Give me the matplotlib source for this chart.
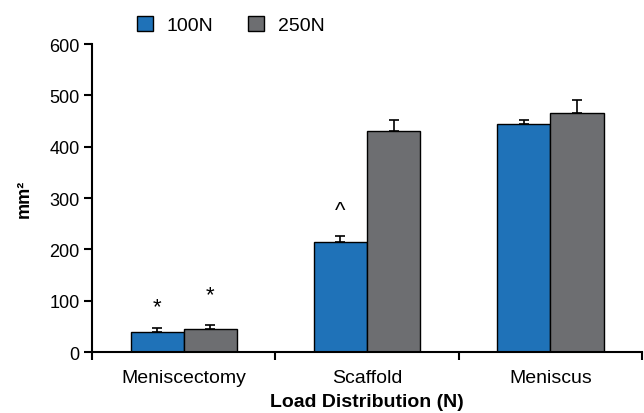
import matplotlib.pyplot as plt
import numpy as np

plt.rcParams['font.family'] = ['Liberation Sans', 'DejaVu Sans']

categories = ["Meniscectomy", "Scaffold", "Meniscus"]
series = ["100N", "250N"]
vals_100 = [40, 214, 444]
err_100 = [7, 13, 8]
vals_250 = [46, 430, 466]
err_250 = [7, 22, 26]
marks_100 = ["*", "^", ""]
marks_100_y = [88, 276, 0]
marks_250 = ["*", "", ""]
marks_250_y = [112, 0, 0]

blue = "#1f72b8"
grey = "#6d6e71"

fig = plt.figure(figsize=(6.44, 4.14), dpi=100)
ax = fig.add_axes([0.143, 0.147, 0.854, 0.744])

x = np.arange(len(categories))
w = 0.29
ekw = dict(elinewidth=1.2, capthick=1.2)
b1 = ax.bar(x - w / 2, vals_100, w, color=blue, edgecolor="black", linewidth=1,
            yerr=[np.zeros(3), err_100], capsize=3.5, error_kw=ekw, label=series[0], zorder=2)
b2 = ax.bar(x + w / 2, vals_250, w, color=grey, edgecolor="black", linewidth=1,
            yerr=[np.zeros(3), err_250], capsize=3.5, error_kw=ekw, label=series[1], zorder=2)

for i in range(3):
    if marks_100[i]:
        ax.text(x[i] - w / 2, marks_100_y[i], marks_100[i], ha="center", va="center", fontsize=16)
    if marks_250[i]:
        ax.text(x[i] + w / 2, marks_250_y[i], marks_250[i], ha="center", va="center", fontsize=16)

ax.set_xlim(-0.5, 2.5)
ax.set_ylim(0, 600)
ax.set_yticks([0, 100, 200, 300, 400, 500, 600])
ax.set_xticks([-0.5, 0.5, 1.5, 2.5])
ax.set_xticklabels([])
ax.set_xticks(x, minor=True)
ax.set_xticklabels(categories, minor=True, fontsize=14)
ax.tick_params(axis="x", which="minor", length=0, pad=12)
ax.tick_params(axis="x", which="major", length=6, width=1.5, direction="out")
ax.tick_params(axis="y", length=6, width=1.5, labelsize=13, pad=3)

for s in ["top", "right"]:
    ax.spines[s].set_visible(False)
for s in ["left", "bottom"]:
    ax.spines[s].set_linewidth(1.5)

ax.set_xlabel("Load Distribution (N)", fontsize=14, fontweight="bold", labelpad=5)
ax.set_ylabel("mm²", fontsize=13, fontweight="bold", labelpad=12)

fig.legend(handles=[b1, b2], labels=series, loc="upper left", bbox_to_anchor=(137 / 644, 1 - 17 / 414),
           ncol=2, frameon=False, fontsize=14, handlelength=0.82, handleheight=0.82,
           columnspacing=1.8, handletextpad=0.7, borderpad=0, borderaxespad=0)

fig.savefig("out.png", dpi=100)
